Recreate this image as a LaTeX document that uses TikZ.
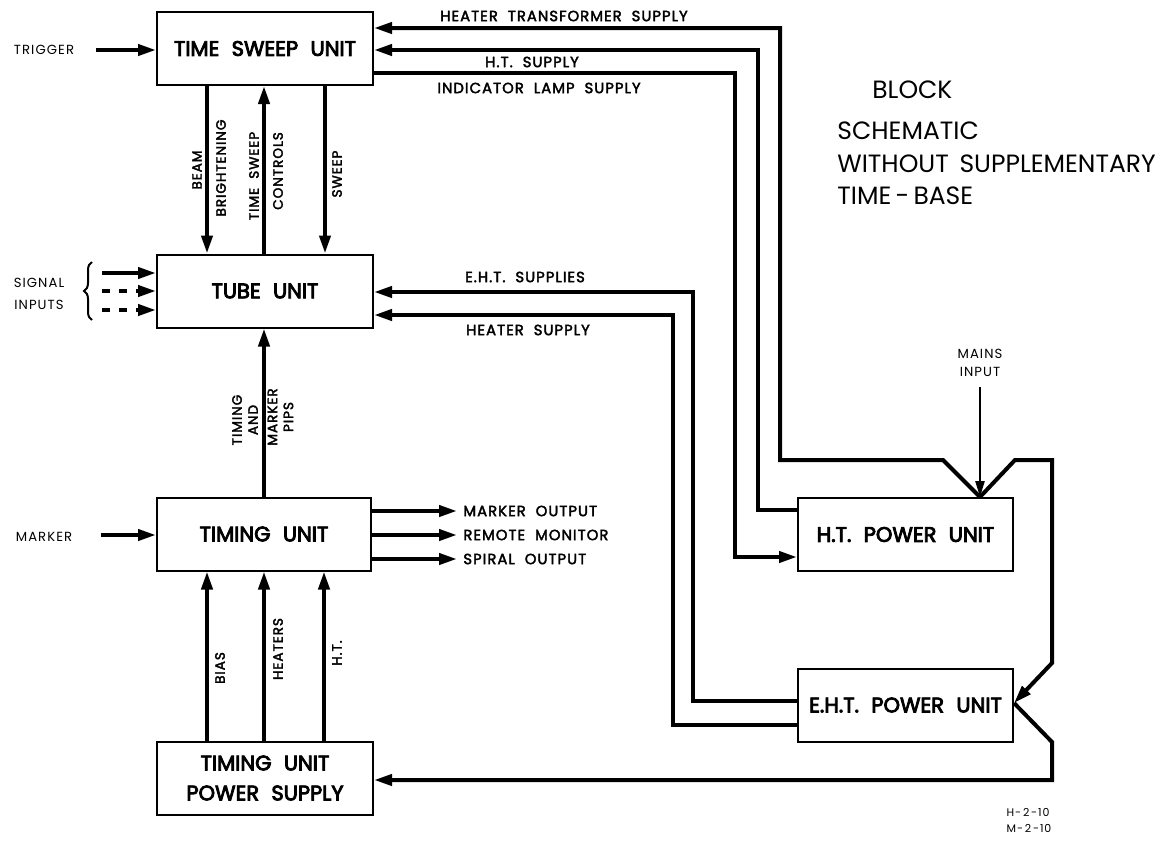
\documentclass[tikz,border=0pt]{standalone}
\usepackage{fontspec}
\newfontfamily\boxface[WordSpace=2.2,FakeBold=4]{Poppins}
\newfontfamily\tagface[LetterSpace=8,WordSpace=2]{Poppins}
\newfontfamily\wireface[LetterSpace=7,WordSpace=2,FakeBold=2.5]{Poppins}
\newfontfamily\titleface[WordSpace=1.6]{Poppins}
\usetikzlibrary{arrows.meta,decorations.pathreplacing}
\tikzset{
  unit/.style={draw, line width=1pt, fill=white, minimum width=108pt, minimum height=36.5pt,
    inner sep=0pt, align=center, font=\boxface\fontsize{10.5}{15}\selectfont},
  wire/.style={line width=2pt},
  feed/.style={wire, -{Triangle[length=9pt,width=5.5pt]}},
  tag/.style={inner sep=1pt, align=center, font=\tagface\fontsize{6.6}{8}\selectfont},
  wtag/.style={inner sep=1pt, align=center, font=\wireface\fontsize{7.4}{8}\selectfont},
  vtag/.style={wtag, rotate=90, font=\wireface\fontsize{6.8}{8}\selectfont},
  title/.style={inner sep=0pt, anchor=west, font=\titleface\fontsize{12.5}{15}\selectfont},
}
\begin{document}
\begin{tikzpicture}[x=0.5pt,y=-0.5pt]
        \useasboundingbox (0,0) rectangle (1164,841);
        % Blocchi
        \node[unit] (tsu) at (265,48.5) {TIME SWEEP UNIT};
        \node[unit] (tube) at (265,291) {TUBE UNIT};
        \node[unit, minimum width=107pt] (timing) at (264,534) {TIMING UNIT};
        \node[unit] (tups) at (265,778) {TIMING UNIT\\POWER SUPPLY};
        \node[unit, minimum width=107.5pt] (ht) at (905.5,534.5) {H.T. POWER UNIT};
        \node[unit, minimum width=107.5pt] (eht) at (905.5,705) {E.H.T. POWER UNIT};
        % Ingressi
        \node[tag] (trig) at (44,50) {TRIGGER};
        \draw[feed] ([xshift=10pt]trig.east) -- (tsu.west |- trig);
        \node[tag] (sig) at (39,294) {SIGNAL\\[3pt]INPUTS};
        \draw[line width=1pt, decorate, decoration={brace, amplitude=4pt}] (92,320) -- (92,262);
        \coordinate (s1) at (102,273);
        \coordinate (s2) at (102,291);
        \coordinate (s3) at (102,310);
        \draw[feed] (s1) -- (tube.west |- s1);
        \draw[feed, dash pattern=on 4pt off 4.5pt] (s2) -- (tube.west |- s2);
        \draw[feed, dash pattern=on 4pt off 4.5pt] (s3) -- (tube.west |- s3);
        \node[tag] (mark) at (44,537) {MARKER};
        \draw[feed] ([xshift=13pt,yshift=1pt]mark.east) -- (timing.west |- 0,535);
        % Unita' centrali
        \draw[feed] (tsu.south -| 207,0) -- (tube.north -| 207,0);
        \draw[feed] (tube.north -| 264,0) -- (tsu.south -| 264,0);
        \draw[feed] (tsu.south -| 325,0) -- (tube.north -| 325,0);
        \draw[feed] (timing.north -| 264,0) -- (tube.south -| 264,0);
        \draw[feed] (tups.north -| 207,0) -- (timing.south -| 207,0);
        \draw[feed] (tups.north -| 264,0) -- (timing.south -| 264,0);
        \draw[feed] (tups.north -| 324,0) -- (timing.south -| 324,0);
        \node[vtag] (lbeam) at (197,170) {BEAM};
        \node[vtag] (lbright) at (221,168) {BRIGHTENING};
        \node[vtag] (ltime) at (254,176) {TIME SWEEP};
        \node[vtag] (lctrl) at (278,171) {CONTROLS};
        \node[vtag] (lsweep) at (337,174) {SWEEP};
        \node[vtag] (ltim) at (245,420) {TIMING\\AND};
        \node[vtag] (lpips) at (280.5,417) {MARKER\\PIPS};
        \node[vtag] (lbias) at (220,668) {BIAS};
        \node[vtag] (lheat) at (278,649) {HEATERS};
        \node[vtag] (lht) at (337,653) {H.T.};
        % Uscite
        \node[wtag, anchor=west] (mo) at (461,511) {MARKER OUTPUT};
        \node[wtag, anchor=west] (rm) at (461,535) {REMOTE MONITOR};
        \node[wtag, anchor=west] (so) at (461,559) {SPIRAL OUTPUT};
        \draw[feed, shorten >=2pt] (timing.east |- mo.west) -- (mo.west);
        \draw[feed, shorten >=2pt] (timing.east |- rm.west) -- (rm.west);
        \draw[feed, shorten >=2pt] (timing.east |- so.west) -- (so.west);
        % Alimentazioni
        \node[tag] (mains) at (980,363) {MAINS\\[1pt]INPUT};
        \draw[line width=1.2pt, -{Triangle[length=8pt,width=4.5pt]}] ([yshift=-4pt]mains.south) -- (ht.north -| mains);
        \draw[feed] (ht.north -| mains) -- (943,460) -- (780,460) -- (780,28) -- (tsu.east |- 0,28);
        \draw[feed] (ht.north -| mains) -- (1015,460) -- (1052,460) -- (1052,663) -- (eht.east |- 0,703);
        \draw[feed] (eht.east |- 0,703) -- (1052,742) -- (1052,780) -- (tups.east |- 0,780);
        \draw[feed] (ht.west |- 0,510) -- (758,510) -- (758,50) -- (tsu.east |- 0,50);
        \draw[feed] (tsu.east |- 0,73) -- (735,73) -- (735,557) -- (ht.west |- 0,557);
        \draw[feed] (eht.west |- 0,701) -- (693,701) -- (693,292) -- (tube.east |- 0,292);
        \draw[feed] (eht.west |- 0,725) -- (673,725) -- (673,315) -- (tube.east |- 0,315);
        \node[wtag] (lhts) at (564,16) {HEATER TRANSFORMER SUPPLY};
        \node[wtag] (lhs) at (532,62) {H.T. SUPPLY};
        \node[wtag] (lils) at (539,88) {INDICATOR LAMP SUPPLY};
        \node[wtag] (lehs) at (525,277) {E.H.T. SUPPLIES};
        \node[wtag] (lhsu) at (528,330) {HEATER SUPPLY};
        % Titolo
        \node[title] (t1) at (872,90) {BLOCK};
        \node[title] (t2) at (837,131) {SCHEMATIC};
        \node[title] (t3) at (837,164) {WITHOUT SUPPLEMENTARY};
        \node[title] (t4) at (837,196) {TIME\,-\,BASE};
        \node[tag, font=\tagface\fontsize{5.5}{8}\selectfont, align=left] (ref) at (1029,820) {H-\,2\,-10\\M-\,2\,-10};
\end{tikzpicture}
\end{document}
